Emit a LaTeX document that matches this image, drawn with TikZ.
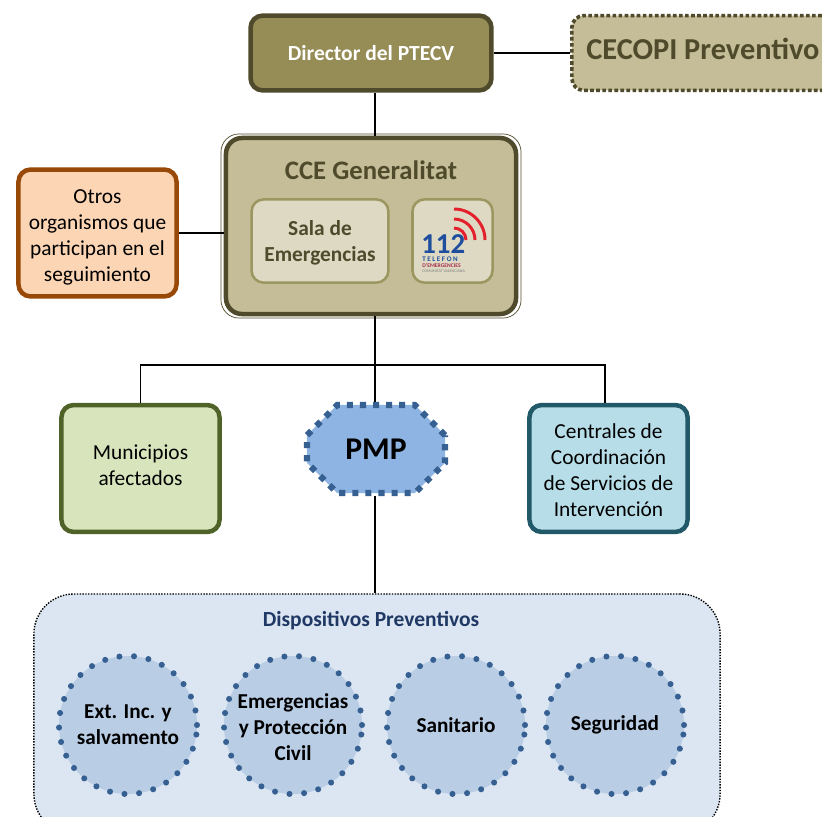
\documentclass[tikz,border=0pt]{standalone}
\usepackage{fontspec}
\setmainfont{Carlito}
\usepackage{xcolor}
\usetikzlibrary{shapes.misc, positioning}
\definecolor{olivedark}{HTML}{4F4A2B}
\definecolor{olivemid}{HTML}{958C56}
\definecolor{olivelight}{HTML}{C4BD97}
\definecolor{olivepale}{HTML}{DDD9C3}
\definecolor{oliveline}{HTML}{9C9660}
\definecolor{bluedark}{HTML}{366092}
\definecolor{bluetitle}{HTML}{1F3864}
\definecolor{bluemid}{HTML}{8EB4E3}
\definecolor{bluepale}{HTML}{DCE6F2}
\definecolor{circlefill}{HTML}{B9CDE5}
\definecolor{logoblue}{HTML}{1F4E9E}
\definecolor{logored}{HTML}{E3202B}
\definecolor{orangeline}{HTML}{984807}
\definecolor{orangefill}{HTML}{FCD5B5}
\definecolor{greenline}{HTML}{4F6228}
\definecolor{greenfill}{HTML}{D8E4BC}
\definecolor{tealline}{HTML}{215968}
\definecolor{tealfill}{HTML}{B7DEE8}
\def\tp#1{\rule{0pt}{#1pt}}
\tikzset{
  box/.style={draw, rounded corners=0.3cm, line width=3.2pt, align=center, inner sep=0pt},
  smallbox/.style={box, minimum width=3.95cm, minimum height=3.17cm, font=\fontsize{15.2}{18.5}\selectfont},
  innerbox/.style={box, draw=oliveline, fill=olivepale, line width=1.8pt, minimum height=2.08cm, font=\fontsize{15.2}{18.5}\selectfont\bfseries, text=olivedark},
  device/.style={circle, draw=bluedark, fill=circlefill, line width=4.3pt, minimum size=3.45cm, inner sep=0pt, align=center,
    line cap=round, dash pattern=on 0pt off 10.4pt, text=black, font=\fontsize{15.1}{18.5}\selectfont\bfseries},
  link/.style={draw=black, line width=1.3pt},
}
\begin{document}
\begin{tikzpicture}[x=0.025cm,y=-0.025cm]
\clip[use as bounding box] (0,0) rectangle (822,816);
% top row
\node[box, draw=olivedark, fill=olivemid, minimum width=6.02cm, minimum height=1.87cm, text=white, font=\fontsize{15.3}{18}\selectfont\bfseries] (director) at (371,53) {Director del PTECV};
\node[box, draw=olivedark, fill=olivelight, line width=2.6pt, dash pattern=on 2.6pt off 1.7pt, minimum width=7cm, minimum height=1.87cm, anchor=west] (cecopi) at (570,53) {};
\node[anchor=west, text=olivedark, font=\fontsize{21.6}{25}\selectfont\bfseries, inner sep=0pt] (cecopitext) at (586,49) {CECOPI Preventivo};
% CCE Generalitat
\node[draw=olivedark, rounded corners=0.45cm, line width=0.5pt, minimum width=7.5cm, minimum height=4.6cm, inner sep=0pt] (cceouter) at (371,226) {};
\node[box, draw=olivedark, fill=olivelight, rounded corners=0.4cm, minimum width=7.25cm, minimum height=4.4cm] (cce) at (371,226) {};
\node[text=olivedark, font=\fontsize{19}{22}\selectfont\bfseries, inner sep=0pt] (ccetitle) at (371,170) {CCE Generalitat};
\node[innerbox, minimum width=3.42cm] (sala) at (320,241) {\tp{13}Sala de\\Emergencias};
\node[innerbox, minimum width=2cm] (logo) at (452.5,241) {};
% logo 112
\coordinate (ondas) at (454,240);
\foreach \r in {12,21,31}
  \draw[logored, line width=2.1pt] (ondas) ++(0,-\r) arc[start angle=90, end angle=0, radius=\r*0.025cm];
\node[anchor=west, text=logoblue, font=\fontsize{20.5}{22}\selectfont\bfseries, inner sep=0pt] (cent) at (421,244) {112};
\node[anchor=west, text=logoblue, font=\fontsize{5}{6}\selectfont\bfseries, inner sep=0pt] (telefon) at (422,259.5) {T E L E F O N};
\node[anchor=west, text=logored!70!logoblue, font=\fontsize{4}{5}\selectfont\bfseries, inner sep=0pt] (emerg) at (422,265.5) {D'EMERGENCIES};
\node[anchor=west, text=gray, font=\fontsize{2.9}{4}\selectfont, inner sep=0pt] (comunitat) at (422,271) {COMUNITAT VALENCIANA};
% side and lower boxes
\node[smallbox, draw=orangeline, fill=orangefill] (otros) at (97.5,233) {\tp{16}Otros\\organismos que\\participan en el\\seguimiento};
\node[smallbox, draw=greenline, fill=greenfill] (municipios) at (140.5,468.5) {Municipios\\afectados\rule[-4.5pt]{0pt}{4.5pt}};
\node[smallbox, draw=tealline, fill=tealfill] (centrales) at (608.5,468.5) {\tp{13}Centrales de\\Coordinación\\de Servicios de\\Intervención};
\node[chamfered rectangle, chamfered rectangle xsep=0.65cm, chamfered rectangle ysep=0.5cm, draw=bluedark, fill=bluemid, line width=4.3pt, dash pattern=on 4.3pt off 5pt,
  minimum width=3.45cm, minimum height=2.2cm, inner sep=0pt, font=\fontsize{22.5}{25}\selectfont\bfseries] (pmp) at (376,449) {PMP};
% dispositivos
\node[draw=black, fill=bluepale, line width=1pt, rounded corners=1cm, dash pattern=on 1pt off 1pt, minimum width=17.15cm, minimum height=6cm] (dispositivos) at (377,714) {};
\node[text=bluetitle, font=\fontsize{15.3}{18}\selectfont\bfseries, inner sep=0pt] (titulo) at (371,621) {Dispositivos Preventivos};
\node[device] (ext) at (128,725) {Ext. Inc. y\\salvamento};
\node[device] (emergencias) at (293,725) {\tp{13}Emergencias\\y Protección\\Civil};
\node[device] (sanitario) at (456,725) {Sanitario};
\node[device] (seguridad) at (615,725) {Seguridad};
% connectors
\coordinate (bus) at (375,365);
\coordinate (busright) at (605,365);
\draw[link] (director.south -| bus) -- (cce.north -| bus);
\draw[link] (director.east) -- (cecopi.west);
\draw[link] (otros.east) -- (otros.east -| cce.west);
\draw[link] (cce.south -| bus) -- (pmp.north -| bus);
\draw[link] (municipios.north) |- (bus) -- (busright) -- (busright |- centrales.north);
\draw[link] (pmp.south -| bus) -- (dispositivos.north -| bus);
\end{tikzpicture}
\end{document}
